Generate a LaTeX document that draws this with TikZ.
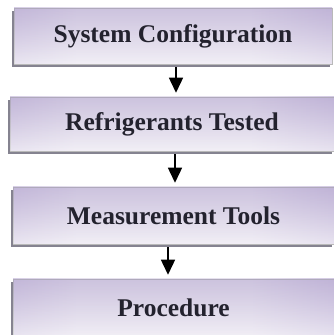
\documentclass[tikz,border=0pt]{standalone}
\usepackage{fontspec}
\setmainfont{Liberation Serif}
\usetikzlibrary{arrows.meta,shadows,fadings}

\definecolor{lavdark}{HTML}{A998CA}
\definecolor{lavmid}{HTML}{C3B6DA}
\definecolor{lavlight}{HTML}{E6E1EE}
\definecolor{lavdeep}{HTML}{9E8CC2}
\definecolor{labelink}{HTML}{23222E}
\definecolor{edgegray}{HTML}{858390}

% horizontal lavender sweep: darker at both ends, pale in the middle
\pgfdeclarehorizontalshading{lavsweep}{100bp}{
  color(0bp)=(lavdark); color(12bp)=(lavmid); color(35bp)=(lavlight);
  color(62bp)=(lavlight); color(86bp)=(lavmid); color(100bp)=(lavdark)}

\begin{document}
\begin{tikzpicture}[x=1pt,y=1pt,
  stage/.style={rectangle, inner sep=0pt, shading=lavsweep,
    draw=gray!55, line width=0.5pt,
    general shadow={fill=edgegray, shadow xshift=-2pt, shadow yshift=-3pt},
    postaction={fill=white, fill opacity=0.5, path fading=north},
    postaction={fill=lavdeep, fill opacity=0.35, path fading=south},
    font=\fontsize{25.5}{30}\selectfont\bfseries, text=labelink},
  flow/.style={-{Triangle[width=14pt,length=15pt]}, line width=1.4pt, black}]
  \useasboundingbox (0,0) rectangle (334,335);

  \node[stage, minimum width=318, minimum height=56] (cfg) at (173,299) {System Configuration};
  \node[stage, minimum width=324, minimum height=54] (ref) at (172,211) {Refrigerants Tested};
  \node[stage, minimum width=321, minimum height=57] (meas) at (173.5,119.5) {Measurement Tools};
  \node[stage, minimum width=321, minimum height=58] (proc) at (173.5,27) {Procedure};

  \draw[flow] ([xshift=3pt,yshift=-3pt]cfg.south) -- ([xshift=3pt,yshift=4pt]cfg.south |- ref.north);
  \draw[flow] ([xshift=3pt,yshift=-3pt]ref.south) -- ([xshift=3pt,yshift=4pt]ref.south |- meas.north);
  \draw[flow] ([xshift=-5.5pt,yshift=-3pt]meas.south) -- ([xshift=-5.5pt,yshift=4pt]meas.south |- proc.north);
\end{tikzpicture}
\end{document}
